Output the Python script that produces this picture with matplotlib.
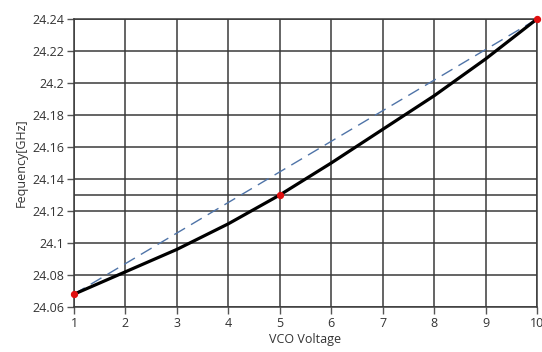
import numpy as np
import matplotlib
matplotlib.use("Agg")
import matplotlib.pyplot as plt

# measured VCO tuning curve
voltage = [1, 2, 3, 4, 5, 6, 7, 8, 9, 10]
freq_ghz = [24.068, 24.082, 24.096, 24.112, 24.130, 24.150, 24.171, 24.192, 24.215, 24.240]

# straight reference line between the end points
ref_v = [1, 10]
ref_f = [24.068, 24.240]

# marked points
marker_v = [1, 5, 10]
marker_f = [24.068, 24.130, 24.240]

# extra horizontal cursor line
cursor_levels = [24.13]

x_ticks = list(range(1, 11))
y_ticks = [24.06, 24.08, 24.1, 24.12, 24.14, 24.16, 24.18, 24.2, 24.22, 24.24]
y_tick_labels = ["24.06", "24.08", "24.1", "24.12", "24.14", "24.16", "24.18", "24.2", "24.22", "24.24"]

plt.rcParams['font.family'] = ['Open Sans', 'DejaVu Sans']

fig = plt.figure(figsize=(5.42, 3.52), dpi=100)
ax = fig.add_axes([74/542, 45/352, 463/542, 288/352])

grid_col = '#3a3a3a'
ax.set_xlim(1, 10)
ax.set_ylim(24.06, 24.24)
ax.set_xticks(x_ticks)
ax.set_yticks(y_ticks)
ax.set_yticklabels(y_tick_labels)
ax.grid(True, color=grid_col, linewidth=1.1)
for lvl in cursor_levels:
    ax.axhline(lvl, color=grid_col, linewidth=1.1)

for s in ax.spines.values():
    s.set_color(grid_col)
    s.set_linewidth(1.1)

ax.tick_params(direction='out', length=5, width=1, color='#555555',
               labelsize=9, labelcolor='#333333', pad=2)

ax.plot(ref_v, ref_f, color='#4f74a8', linewidth=1.0, dashes=(9, 5), zorder=3)
ax.plot(voltage, freq_ghz, color='black', linewidth=2.3, zorder=4,
        solid_capstyle='round', solid_joinstyle='round')
ax.scatter(marker_v, marker_f, s=18, color='#e01010', zorder=5, clip_on=False)

ax.set_xlabel('VCO Voltage', fontsize=9, color='#333333', labelpad=2)
ax.set_ylabel('Fequency[GHz]', fontsize=9, color='#333333', labelpad=3)

fig.savefig('out.png', dpi=100)
